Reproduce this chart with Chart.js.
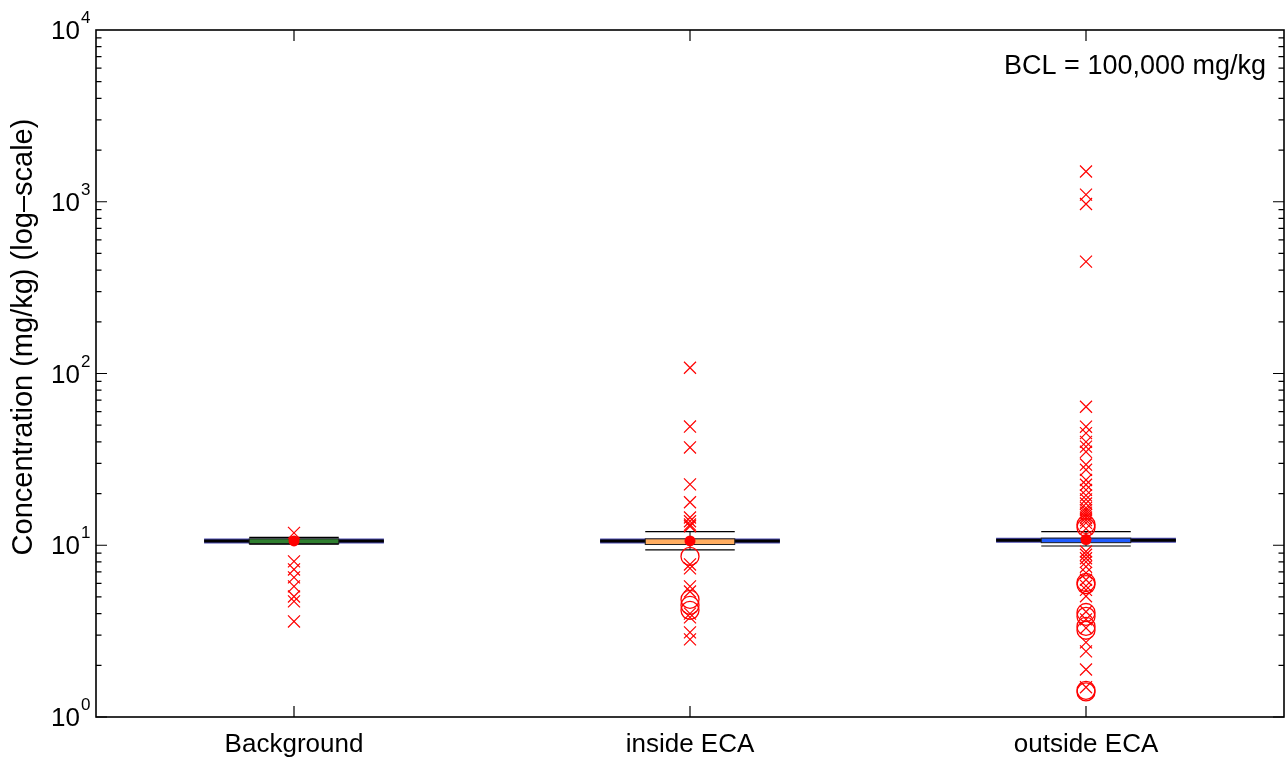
<!DOCTYPE html>
<html>
<head>
<meta charset="utf-8">
<script src="https://cdn.jsdelivr.net/npm/chart.js@4"></script>
<style>
  html, body { margin: 0; background: #fff; overflow: hidden; }
  #wrap { width: 1288px; height: 759px; }
</style>
</head>
<body>
<div id="wrap"><canvas id="boxChart"></canvas></div>
<script>
// data
const groups = ["Background", "inside ECA", "outside ECA"];
const whiskerLow = [10.15, 9.4, 9.9];
const q1 = [10.2, 10.1, 10.35];
const median = [10.6, 10.6, 10.7];
const q3 = [10.9, 10.9, 11.0];
const whiskerHigh = [11.1, 12.0, 12.0];
const means = [10.6, 10.6, 10.8];
const boxColors = ["#2f7f2f", "#ffad60", "#1f5cff"];

const crossOutliers = [
    [11.8, 8.05, 7.23, 6.5, 5.76, 5.03, 4.71, 3.6],
    [108, 49.1, 37.1, 22.6, 17.8, 14.5, 13.8, 13.2, 12.9, 7.73, 7.33, 5.76, 5.38, 4.0, 3.8, 3.11, 2.83],
    [1500, 1100, 970, 448, 64, 49, 45, 40, 37.5, 35, 29.5, 27.5, 24, 22.5, 21, 19.5, 18.5, 17.5,
     16.5, 16, 15.5, 15, 14.5, 14, 13.5, 12.5, 9.2, 8.8, 8.4, 8.0, 7.5, 6.9, 6.3, 5.8, 5.5, 5.05,
     4.1, 3.7, 3.3, 2.72, 2.41, 1.89, 1.49]
];
const circleOutliers = [
    [],
    [8.61, 4.84, 4.47, 4.18],
    [13.2, 12.7, 6.07, 5.9, 4.06, 3.85, 3.37, 3.2, 1.43, 1.40]
];
const yTickExponents = [0, 1, 2, 3, 4];
const yTitle = "Concentration (mg/kg) (log–scale)";
const note = "BCL = 100,000 mg/kg";

const FONT = "'Liberation Sans', Arial, sans-serif";
const boxHalf = 0.113;
const medianHalf = 0.227;

const datasets = [];
groups.forEach((g, i) => {
    datasets.push({
        label: g + " outliers",
        data: crossOutliers[i].map(v => ({ x: i + 1, y: v })),
        pointStyle: "crossRot",
        radius: 8.5,
        borderColor: "#ff0000",
        borderWidth: 1.2
    });
    datasets.push({
        label: g + " far outliers",
        data: circleOutliers[i].map(v => ({ x: i + 1, y: v })),
        pointStyle: "circle",
        radius: 9,
        borderColor: "#ff0000",
        backgroundColor: "rgba(0,0,0,0)",
        borderWidth: 1.3
    });
});
datasets.push({
    label: "mean",
    data: means.map((v, i) => ({ x: i + 1, y: v })),
    pointStyle: "circle",
    radius: 5.5,
    borderColor: "#ff0000",
    backgroundColor: "#ff0000",
    borderWidth: 0
});

const boxPlugin = {
    id: "boxPlugin",
    beforeDatasetsDraw(chart) {
        const ctx = chart.ctx;
        const xs = chart.scales.x, ys = chart.scales.y;
        const area = chart.chartArea;
        ctx.save();

        groups.forEach((g, i) => {
            const c = i + 1;
            // median line, wide
            const ym = ys.getPixelForValue(median[i]);
            ctx.beginPath();
            ctx.moveTo(xs.getPixelForValue(c - medianHalf), ym);
            ctx.lineTo(xs.getPixelForValue(c + medianHalf), ym);
            ctx.strokeStyle = "#4a4ab0";
            ctx.lineWidth = 5;
            ctx.stroke();
            ctx.strokeStyle = "#000";
            ctx.lineWidth = 3;
            ctx.stroke();

            // whisker stems
            const xc = xs.getPixelForValue(c);
            ctx.beginPath();
            ctx.moveTo(xc, ys.getPixelForValue(q3[i]));
            ctx.lineTo(xc, ys.getPixelForValue(whiskerHigh[i]));
            ctx.moveTo(xc, ys.getPixelForValue(q1[i]));
            ctx.lineTo(xc, ys.getPixelForValue(whiskerLow[i]));
            ctx.strokeStyle = "#000";
            ctx.lineWidth = 1;
            ctx.stroke();

            // box
            const xl = xs.getPixelForValue(c - boxHalf);
            const xr = xs.getPixelForValue(c + boxHalf);
            const yt = ys.getPixelForValue(q3[i]);
            const yb = ys.getPixelForValue(q1[i]);
            ctx.fillStyle = boxColors[i];
            ctx.fillRect(xl, yt, xr - xl, yb - yt);
            ctx.strokeStyle = "#222";
            ctx.lineWidth = 1;
            ctx.strokeRect(xl, yt, xr - xl, yb - yt);

            // whisker caps
            ctx.beginPath();
            [whiskerHigh[i], whiskerLow[i]].forEach(v => {
                const y = ys.getPixelForValue(v);
                ctx.moveTo(xl, y);
                ctx.lineTo(xr, y);
            });
            ctx.strokeStyle = "#000";
            ctx.lineWidth = 1.2;
            ctx.stroke();
        });

        // axis frame with inward ticks
        ctx.strokeStyle = "#000";
        ctx.lineWidth = 1.6;
        ctx.strokeRect(area.left, area.top, area.right - area.left, area.bottom - area.top);
        ctx.beginPath();
        ctx.lineWidth = 1.2;
        for (let d = 0; d < 4; d++) {
            for (let k = 1; k <= 9; k++) {
                const y = ys.getPixelForValue(k * Math.pow(10, d));
                const len = k === 1 ? 11 : 5.5;
                ctx.moveTo(area.left, y);
                ctx.lineTo(area.left + len, y);
                ctx.moveTo(area.right, y);
                ctx.lineTo(area.right - len, y);
            }
        }
        groups.forEach((g, i) => {
            const x = xs.getPixelForValue(i + 1);
            ctx.moveTo(x, area.bottom);
            ctx.lineTo(x, area.bottom - 11);
            ctx.moveTo(x, area.top);
            ctx.lineTo(x, area.top + 11);
        });
        ctx.stroke();
        ctx.restore();
    },
    afterDraw(chart) {
        const ctx = chart.ctx;
        const xs = chart.scales.x, ys = chart.scales.y;
        const area = chart.chartArea;
        ctx.save();
        ctx.fillStyle = "#000";

        // x tick labels
        ctx.font = "26px " + FONT;
        ctx.textAlign = "center";
        ctx.textBaseline = "alphabetic";
        groups.forEach((g, i) => {
            ctx.fillText(g, xs.getPixelForValue(i + 1), 752);
        });

        // y tick labels 10^n
        yTickExponents.forEach(e => {
            const y = ys.getPixelForValue(Math.pow(10, e));
            ctx.font = "26px " + FONT;
            ctx.textAlign = "right";
            ctx.fillText("10", 80, y + 9);
            ctx.font = "17px " + FONT;
            ctx.textAlign = "left";
            ctx.fillText(String(e), 81, y - 7);
        });

        // annotation
        ctx.font = "27px " + FONT;
        ctx.textAlign = "right";
        ctx.fillText(note, area.right - 18, 74);

        // y title
        ctx.font = "29px " + FONT;
        ctx.translate(32, 337);
        ctx.rotate(-Math.PI / 2);
        ctx.textAlign = "center";
        ctx.fillText(yTitle, 0, 0);
        ctx.restore();
    }
};

new Chart(document.getElementById("boxChart"), {
    type: "scatter",
    data: { datasets: datasets },
    options: {
        responsive: true,
        maintainAspectRatio: false,
        animation: false,
        layout: { autoPadding: false, padding: { left: 96, right: 4, top: 30, bottom: 42 } },
        plugins: {
            legend: { display: false },
            tooltip: { enabled: false }
        },
        scales: {
            x: { type: "linear", min: 0.5, max: 3.5, display: false },
            y: { type: "logarithmic", min: 1, max: 10000, display: false }
        }
    },
    plugins: [boxPlugin]
});
</script>
</body>
</html>
